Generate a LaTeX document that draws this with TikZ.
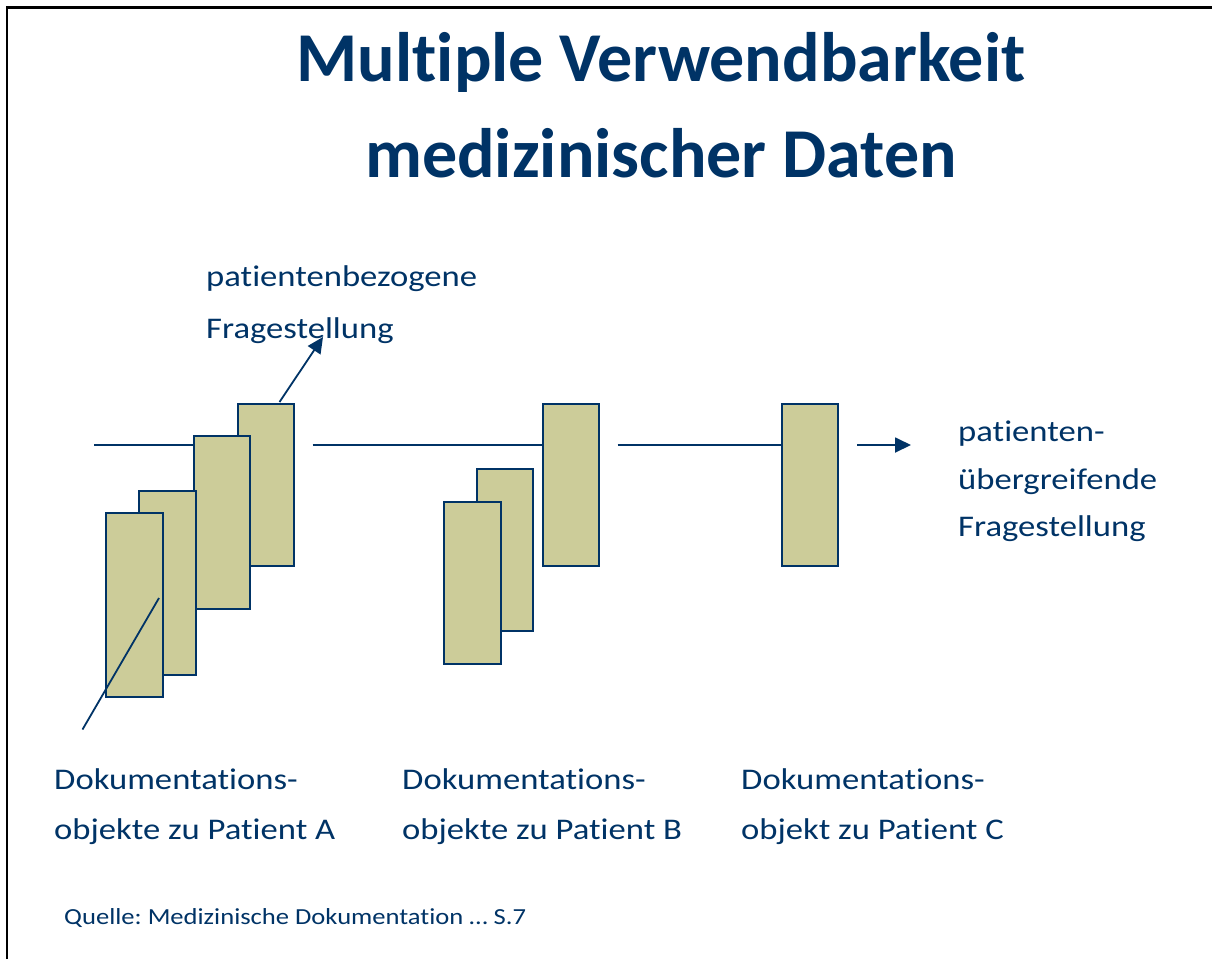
\documentclass[tikz,border=0pt]{standalone}
\usepackage{fontspec}
\setmainfont[Ligatures=NoCommon]{Carlito}
\newfontfamily\lblfont[FakeStretch=1.155, Ligatures=NoCommon]{Carlito}
\frenchspacing
\usetikzlibrary{arrows.meta}
\definecolor{navy}{RGB}{0,51,102}
\definecolor{docfill}{RGB}{204,204,153}
\tikzset{
  doc/.style={draw=navy, fill=docfill, line width=2pt, inner sep=0pt, anchor=north west, minimum width=56.5pt},
  conn/.style={draw=navy, line width=1.8pt},
  arr/.style={conn, -{Triangle[length=16pt,width=15pt]}},
  lbl/.style={text=navy, inner sep=0pt, anchor=base west, font=\lblfont\fontsize{30}{50}\selectfont},
}
\begin{document}
\begin{tikzpicture}[x=1pt,y=-1pt]
\useasboundingbox (0,0) rectangle (1212,959);
% frame
\draw[line width=2.5pt] (7,959) -- (7,7.5) -- (1212,7.5);
% title
\node[text=navy, inner sep=0pt, anchor=base] (title) at (661,81)
  {\fontsize{70}{96}\selectfont\bfseries\begin{tabular}[t]{@{}c@{}}Multiple Verwendbarkeit\\medizinischer Daten\end{tabular}};
% timeline coordinates
\coordinate (s0) at (94,445);
\coordinate (s1) at (312.5,445);
\coordinate (s2) at (617.5,445);
\coordinate (s3) at (857,445);
\coordinate (s4) at (911,445);
% rectangles group A (back to front)
\draw[conn] (s0) -- (193,445);
\node[doc, minimum height=162pt] (A4) at (236.5,402.5) {};
\node[doc, minimum height=173.5pt] (A3) at (192.5,434.5) {};
\node[doc, minimum height=184pt] (A2) at (138,489.5) {};
\node[doc, minimum height=184pt] (A1) at (105,511.5) {};
% group B
\draw[conn] (s1) -- (542,445);
\node[doc, minimum height=162pt] (B3) at (541.5,402.5) {};
\node[doc, minimum height=162.5pt] (B2) at (475.5,467.5) {};
\node[doc, minimum height=162.5pt] (B1) at (443,500.5) {};
% group C
\draw[conn] (s2) -- (781,445);
\node[doc, minimum height=162pt] (C1) at (780.5,402.5) {};
% arrows
\draw[arr] (s3) -- (s4);
\coordinate (a1) at (279.5,402);
\coordinate (a2) at (323,337);
\draw[arr] (a1) -- (a2);
\coordinate (d1) at (82.5,729.5);
\coordinate (d2) at (159,598);
\draw[conn] (d1) -- (d2);
% labels
\node[lbl, font=\lblfont\fontsize{30}{51.6}\selectfont] (lp) at (206,286.5) {\begin{tabular}[t]{@{}l@{}}patientenbezogene\\Fragestellung\end{tabular}};
\node[lbl, font=\lblfont\fontsize{30}{47.5}\selectfont] (lu) at (958,441.5) {\begin{tabular}[t]{@{}l@{}}patienten-\\übergreifende\\Fragestellung\end{tabular}};
\node[lbl] (la) at (54,789.5) {\begin{tabular}[t]{@{}l@{}}Dokumentations-\\objekte zu Patient A\end{tabular}};
\node[lbl] (lb) at (402,789.5) {\begin{tabular}[t]{@{}l@{}}Dokumentations-\\objekte zu Patient B\end{tabular}};
\node[lbl] (lc) at (741,789.5) {\begin{tabular}[t]{@{}l@{}}Dokumentations-\\objekt zu Patient C\end{tabular}};
\node[lbl, font=\lblfont\fontsize{23}{25}\selectfont] (src) at (64,924) {Quelle: Medizinische Dokumentation … S.7};
\end{tikzpicture}
\end{document}
